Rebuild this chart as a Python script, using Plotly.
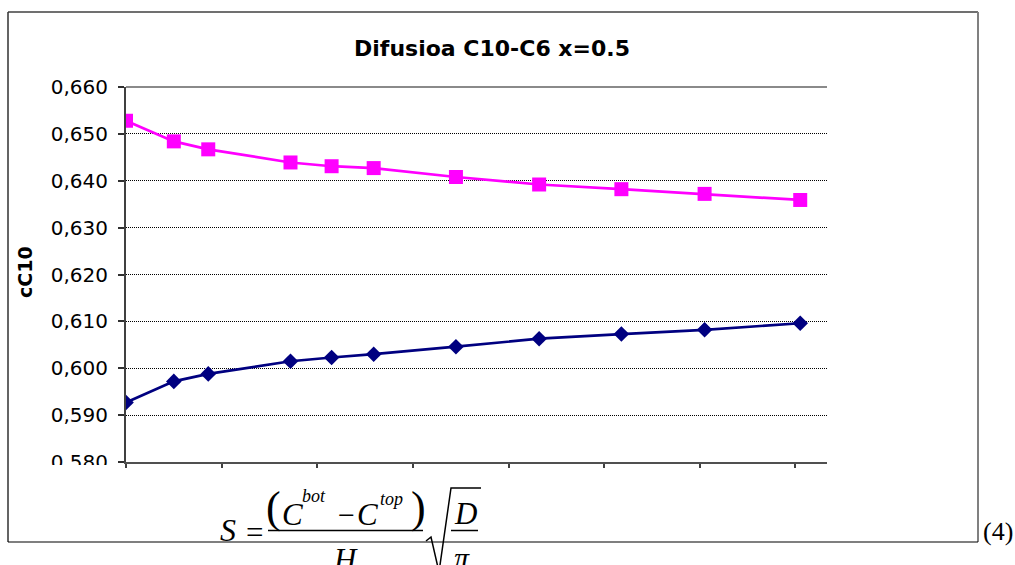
import plotly.graph_objects as go

# ---- data ----
x_vals = [0, 0.50, 0.86, 1.72, 2.15, 2.59, 3.45, 4.32, 5.18, 6.05, 7.05]
pink_vals = [0.6528, 0.6484, 0.6467, 0.6439, 0.6431, 0.6427, 0.6408, 0.6392, 0.6382, 0.6372, 0.6359]
blue_vals = [0.5927, 0.5972, 0.5988, 0.6015, 0.6023, 0.6030, 0.6046, 0.6063, 0.6073, 0.6082, 0.6096]
title_text = "Difusioa C10-C6 x=0.5"
y_title = "cC10"
y_range = [0.58, 0.66]
x_range = [0, 7.33]

W, H = 1015, 565
L, R, T, B = 126, 827, 87, 462


def px(x):
    return (x - L) / (R - L)


def py(y):
    return (B - y) / (B - T)


fig = go.Figure()
fig.add_trace(go.Scatter(
    x=x_vals, y=pink_vals, mode="lines+markers",
    line=dict(color="#FF00FF", width=2.7),
    marker=dict(symbol="square", size=14, color="#FF00FF"),
    showlegend=False, hoverinfo="skip"))
fig.add_trace(go.Scatter(
    x=x_vals, y=blue_vals, mode="lines+markers",
    line=dict(color="#000080", width=2.7),
    marker=dict(symbol="diamond", size=12, color="#000080"),
    showlegend=False, hoverinfo="skip"))

shapes = []
# top border of plot area (gray)
shapes.append(dict(type="line", xref="paper", yref="paper", x0=0, x1=1, y0=1, y1=1,
                   line=dict(color="#8a8a8a", width=2), layer="above"))
# white patch that cuts the lowest tick label
shapes.append(dict(type="rect", xref="paper", yref="paper",
                   x0=px(30), x1=px(119), y0=py(465), y1=py(490),
                   fillcolor="white", line=dict(width=0), layer="above"))
# outer frame
shapes.append(dict(type="line", xref="paper", yref="paper", x0=px(8), x1=px(978), y0=py(12), y1=py(12),
                   line=dict(color="#404040", width=1.5)))
shapes.append(dict(type="line", xref="paper", yref="paper", x0=px(8), x1=px(8), y0=py(12), y1=py(542),
                   line=dict(color="#303030", width=1.5)))
shapes.append(dict(type="line", xref="paper", yref="paper", x0=px(978), x1=px(978), y0=py(12), y1=py(542),
                   line=dict(color="#808080", width=2)))
shapes.append(dict(type="line", xref="paper", yref="paper", x0=px(8), x1=px(978), y0=py(542), y1=py(542),
                   line=dict(color="#000000", width=1.2)))
# equation fraction bars
shapes.append(dict(type="line", xref="paper", yref="paper", x0=px(268), x1=px(423), y0=py(530.5), y1=py(530.5),
                   line=dict(color="#000000", width=1.5)))
shapes.append(dict(type="line", xref="paper", yref="paper", x0=px(451), x1=px(478), y0=py(530.5), y1=py(530.5),
                   line=dict(color="#000000", width=1.5)))
# radical sign
rad = [(426, 541), (431, 537), (439, 572), (451, 488), (481, 488)]
path = "M " + " L ".join(f"{px(a)},{py(b)}" for a, b in rad)
shapes.append(dict(type="path", xref="paper", yref="paper", path=path,
                   line=dict(color="#000000", width=1.5)))

serif = "Liberation Serif"
ann = []


def txt(s, x, y, size, family=serif, italic=True, **kw):
    t = f"<i>{s}</i>" if italic else s
    ann.append(dict(text=t, x=px(x), y=py(y), xref="paper", yref="paper",
                    xanchor="center", yanchor="middle", showarrow=False,
                    font=dict(family=family, size=size, color="black"), **kw))


txt("S", 228, 530, 32)
txt("=", 254, 532, 31, italic=False)
txt("(", 273, 507, 44, italic=False)
txt("C", 292, 514, 31)
txt("bot", 314, 496, 18)
txt("\u2212", 346, 514, 30, italic=False)
txt("C", 367, 514, 31)
txt("top", 391, 499, 18)
txt(")", 418, 507, 44, italic=False)
txt("H", 345, 559, 31)
txt("D", 465, 513, 31)
txt("\u03c0", 462, 557, 30)
txt("(4)", 998, 531, 26, italic=False)

# y axis title
ann.append(dict(text=f"<b>{y_title}</b>", x=px(25), y=py(272), xref="paper", yref="paper",
                xanchor="center", yanchor="middle", showarrow=False, textangle=-90,
                font=dict(family="DejaVu Sans", size=19, color="black")))

fig.update_layout(
    width=W, height=H, autosize=False,
    margin=dict(l=L, r=W - R, t=T, b=H - B, pad=0),
    paper_bgcolor="white", plot_bgcolor="white",
    separators=",.",
    title=dict(text=f"<b>{title_text}</b>", x=492 / W, xanchor="center",
               y=1 - 48 / H, yanchor="middle", yref="container", xref="container",
               font=dict(family="DejaVu Sans", size=22, color="black")),
    shapes=shapes, annotations=ann,
    xaxis=dict(range=x_range, dtick=1, tick0=0, showticklabels=False, showgrid=False,
               zeroline=False, ticks="outside", ticklen=4, tickwidth=1.5, tickcolor="#404040",
               showline=True, linecolor="#505050", linewidth=2),
    yaxis=dict(range=y_range, dtick=0.01, tick0=0.58, tickformat=".3f", showgrid=True,
               gridcolor="#000000", gridwidth=1, griddash="1px,1px", zeroline=False,
               ticks="outside", ticklen=6, tickwidth=1.5, tickcolor="#303030",
               showline=True, linecolor="#404040", linewidth=2,
               tickfont=dict(family="DejaVu Sans", size=20, color="black"),
               ticklabelstandoff=6),
)

fig.write_html("out.html", config={"displayModeBar": False},
               post_script="document.body.style.margin='0';document.body.style.overflow='hidden';")
